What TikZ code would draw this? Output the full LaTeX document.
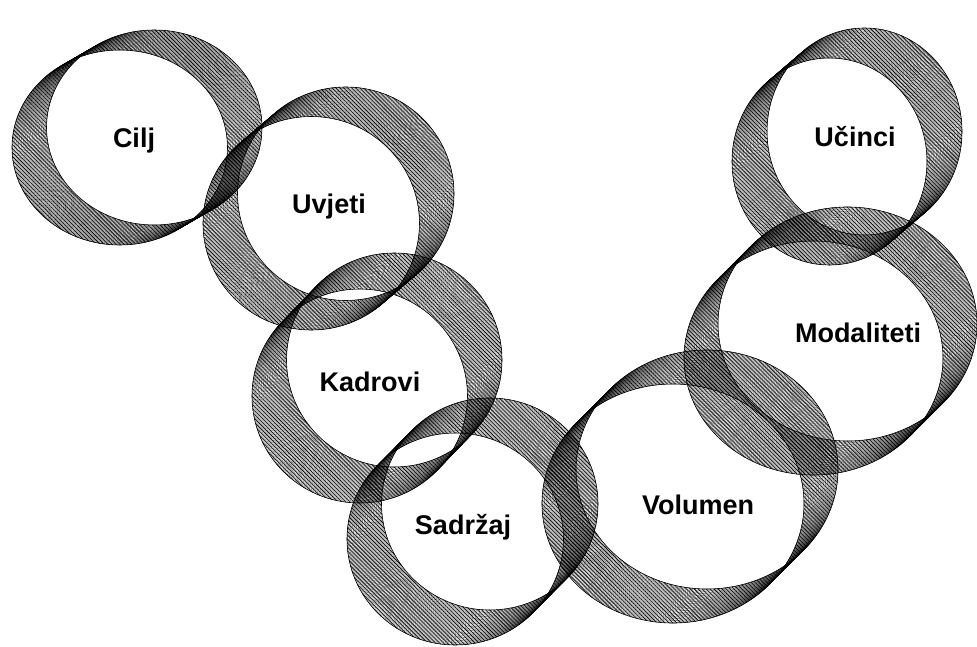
\documentclass[tikz,border=0pt]{standalone}
\usepackage{fontspec}
\setmainfont{Liberation Sans}
\usetikzlibrary{patterns.meta}
\tikzset{
  hatch/.style={pattern={Lines[angle=-45,distance=2.8pt,line width=0.6pt]}, pattern color=black, nonzero rule},
  sweepline/.style={draw=black, line width=0.08pt},
  rimline/.style={draw=black, line width=0.6pt},
  ringlabel/.style={font=\fontsize{27}{30}\selectfont\bfseries, text=black, inner sep=0pt}
}
% #1 cx, #2 cy, #3 a, #4 b, #5 dx, #6 dy  (image pixel coordinates, y downwards)
\newcommand{\myring}[6]{%
  \begin{scope}[even odd rule]
    \clip (-50,-50) rectangle (1030,700) (#1,#2) ellipse ({#3} and {#4});
    \fill[hatch] \foreach \k in {0,...,24}{ ({#1+\k*(#5)/24},{#2+\k*(#6)/24}) ellipse ({#3} and {#4}) };
  \end{scope}
  \begin{scope}[even odd rule]
    \clip (-50,-50) rectangle (1030,700) ({#1+(#5)},{#2+(#6)}) ellipse ({#3} and {#4});
    \fill[hatch] \foreach \k in {0,...,24}{ ({#1+\k*(#5)/24},{#2+\k*(#6)/24}) ellipse ({#3} and {#4}) };
  \end{scope}
  \foreach \k in {0,...,50}{
    \draw[sweepline] ({#1+\k*(#5)/50},{#2+\k*(#6)/50}) ellipse ({#3} and {#4});
  }
  \draw[rimline] (#1,#2) ellipse ({#3} and {#4});
  \draw[rimline] ({#1+(#5)},{#2+(#6)}) ellipse ({#3} and {#4});
}
\begin{document}
\begin{tikzpicture}[x=1pt,y=-1pt]
  \useasboundingbox[fill=white] (0,0) rectangle (977,647);
  \myring{119.75}{147.5}{107.75}{97.5}{34.5}{-20}
  \myring{311.25}{223.25}{108.25}{106.75}{34.5}{-29.5}
  \myring{359.75}{396}{107.75}{107}{34.5}{-36}
  \myring{455.25}{539}{108.25}{106}{34.5}{-35}
  \myring{673}{503.5}{131}{119.5}{34}{-34}
  \myring{813.5}{358}{129.5}{117}{34}{-34}
  \myring{829.5}{161.5}{97.5}{103.5}{35}{-30}
  \node[ringlabel] (cilj) at (134,141) {Cilj};
  \node[ringlabel] (uvjeti) at (329,207) {Uvjeti};
  \node[ringlabel] (kadrovi) at (370,382) {Kadrovi};
  \node[ringlabel] (sadrzaj) at (463,527) {Sadržaj};
  \node[ringlabel] (volumen) at (698,505) {Volumen};
  \node[ringlabel] (modaliteti) at (858,333) {Modaliteti};
  \node[ringlabel] (ucinci) at (855,137) {Učinci};
\end{tikzpicture}
\end{document}
